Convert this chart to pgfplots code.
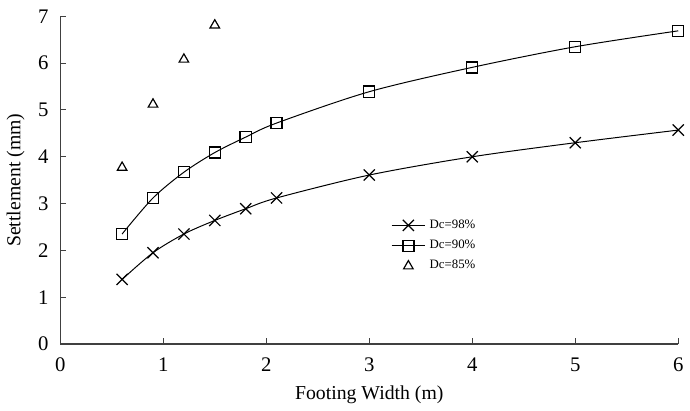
\documentclass[border=0pt]{standalone}
\usepackage{fontspec}
\setmainfont{Liberation Serif}
\usepackage{pgfplots}
\pgfplotsset{compat=1.18}

\begin{document}
\begin{tikzpicture}
\begin{axis}[
    scale only axis,
    width=313pt,
    height=166pt,
    xmin=0, xmax=6,
    ymin=0, ymax=7,
    axis lines=left,
    axis line style={-, black!75, line width=0.6pt},
    xtick={0,1,...,6},
    ytick={0,1,...,7},
    tick align=inside,
    major tick length=3pt,
    tick style={black!75, line width=0.5pt},
    tick label style={font=\fontsize{10.5}{11}\selectfont},
    xticklabel style={yshift=-3.5pt},
    yticklabel style={xshift=-2.5pt},
    /pgf/number format/assume math mode=true,
    xlabel={Footing Width (m)},
    ylabel={Settlement (mm)},
    label style={font=\fontsize{10}{11}\selectfont},
    xlabel style={yshift=0pt},
    ylabel style={yshift=0pt},
    clip=false,
    legend style={draw=none, fill=none, font=\fontsize{6.5}{7}\selectfont,
        at={(0.525,0.405)}, anchor=north west, row sep=0.5pt},
    legend cell align=left,
]
\addplot[black, line width=0.5pt, smooth, mark=x, mark size=4pt, mark options={line width=0.6pt}] coordinates {
    (0.6,1.38) (0.9,1.95) (1.2,2.35) (1.5,2.64) (1.8,2.89) (2.1,3.12)
    (3,3.61) (4,4.00) (5,4.30) (6,4.57)
};
\addlegendentry{Dc=98\%}
\addplot[black, line width=0.5pt, smooth, mark=square, mark size=2.8pt, mark options={line width=0.7pt}] coordinates {
    (0.6,2.35) (0.9,3.12) (1.2,3.67) (1.5,4.09) (1.8,4.42) (2.1,4.72)
    (3,5.39) (4,5.91) (5,6.35) (6,6.69)
};
\addlegendentry{Dc=90\%}
\addplot[black, only marks, mark=triangle, mark size=2.8pt, mark options={line width=0.6pt}] coordinates {
    (0.6,3.77) (0.9,5.12) (1.2,6.08) (1.5,6.81)
};
\addlegendentry{Dc=85\%}
\end{axis}
\path ([yshift=1.5pt]current bounding box.north);
\end{tikzpicture}
\end{document}
